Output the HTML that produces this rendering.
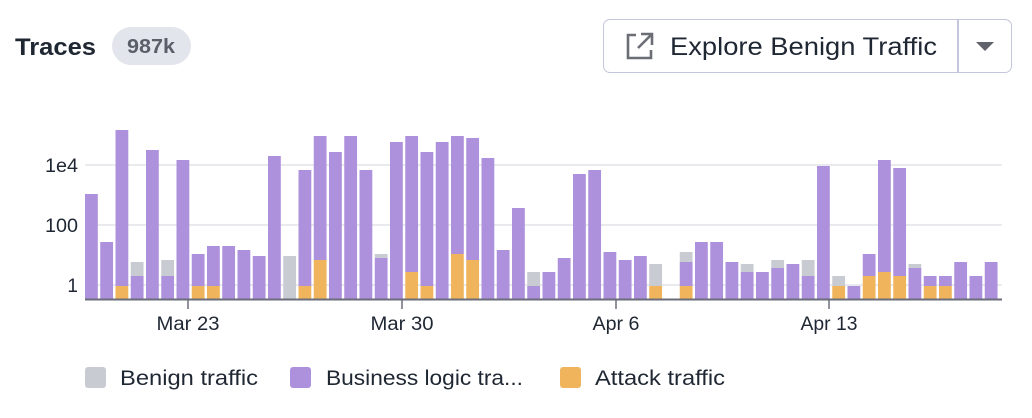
<!DOCTYPE html>
<html><head><meta charset="utf-8"><style>
body{margin:0;width:1032px;height:418px;background:#fff;font-family:"Liberation Sans",sans-serif;overflow:hidden;position:relative}
</style></head><body>
<div style="position:absolute;left:112px;top:27px;width:79px;height:38px;border-radius:19px;background:#e3e5ec"></div>
<div style="position:absolute;left:603px;top:19px;width:407px;height:52px;border:1.5px solid #c3c6dc;border-radius:7px"></div>
<div style="position:absolute;left:957px;top:20px;width:1.5px;height:52px;background:#c3c6dc"></div>
<svg style="position:absolute;left:624px;top:30px" width="32" height="32" viewBox="0 0 32 32"><path d="M12 5H4v23h23v-8" fill="none" stroke="#6b6e75" stroke-width="2.6"/><path d="M17 4h11v11M28 4L14 18" fill="none" stroke="#6b6e75" stroke-width="2.6"/></svg>
<svg style="position:absolute;left:975px;top:40px" width="20" height="12"><path d="M1 2h18l-9 9z" fill="#60636b"/></svg>
<svg style="position:absolute;left:0;top:0" width="1032" height="418">
<text x="15" y="55" font-size="24" font-weight="bold" fill="#1f2733" textLength="81" lengthAdjust="spacingAndGlyphs">Traces</text>
<text x="127" y="53" font-size="20" font-weight="bold" fill="#5a5f6a" textLength="48" lengthAdjust="spacingAndGlyphs">987k</text>
<text x="670" y="55" font-size="25" fill="#1f2733" textLength="267" lengthAdjust="spacingAndGlyphs">Explore Benign Traffic</text>
<g stroke="#e2e3e8" stroke-width="1.5"><line x1="85" y1="165" x2="1002" y2="165"/><line x1="85" y1="225" x2="1002" y2="225"/><line x1="85" y1="285" x2="1002" y2="285"/></g>
<g font-size="19" fill="#1f2733" text-anchor="end"><text x="78" y="172" textLength="33" lengthAdjust="spacingAndGlyphs">1e4</text><text x="78" y="232" textLength="33" lengthAdjust="spacingAndGlyphs">100</text><text x="78" y="292">1</text></g>
<g id="bars"></g>
<line x1="85" y1="299.5" x2="1002" y2="299.5" stroke="#6b6e7a" stroke-width="2"/>
<g stroke="#6b6e7a" stroke-width="1.5"><line x1="188" y1="300" x2="188" y2="309"/><line x1="402" y1="300" x2="402" y2="309"/><line x1="616" y1="300" x2="616" y2="309"/><line x1="829" y1="300" x2="829" y2="309"/></g>
<g font-size="19" fill="#1f2733" text-anchor="middle"><text x="188" y="330" textLength="63" lengthAdjust="spacingAndGlyphs">Mar 23</text><text x="402" y="330" textLength="63" lengthAdjust="spacingAndGlyphs">Mar 30</text><text x="616" y="330" textLength="47" lengthAdjust="spacingAndGlyphs">Apr 6</text><text x="829" y="330" textLength="57" lengthAdjust="spacingAndGlyphs">Apr 13</text></g>
<rect x="85" y="367" width="21" height="21" rx="3" fill="#c8ccd2"/>
<rect x="290" y="367" width="21" height="21" rx="3" fill="#ae91dc"/>
<rect x="560" y="367" width="21" height="21" rx="3" fill="#f0b55c"/>
<g font-size="21" fill="#1f2733"><text x="120" y="385" textLength="138" lengthAdjust="spacingAndGlyphs">Benign traffic</text><text x="326" y="385" textLength="197" lengthAdjust="spacingAndGlyphs">Business logic tra...</text><text x="595" y="385" textLength="130" lengthAdjust="spacingAndGlyphs">Attack traffic</text></g>
</svg>
<script>
var d=[[0,194,0],[0,242,0],[0,130,286],[262,276,0],[0,150,0],[260,276,0],[0,160,0],[0,254,286],[0,246,286],[0,246,0],
[0,250,0],[0,256,0],[0,156,0],[256,0,0],[0,170,286],[0,136,260],[0,152,0],[0,136,0],[0,170,0],[254,258,0],
[0,142,0],[0,136,272],[0,152,286],[0,142,0],[0,136,254],[0,138,260],[0,158,0],[0,250,0],[0,208,0],[272,286,0],
[0,272,0],[0,258,0],[0,174,0],[0,170,0],[0,252,0],[0,260,0],[0,256,0],[264,0,286],[0,0,0],[252,262,286],
[0,242,0],[0,242,0],[0,262,0],[264,272,0],[0,272,0],[260,268,0],[0,264,0],[260,276,0],[0,166,0],[276,0,286],
[0,286,0],[0,254,276],[0,160,272],[0,168,276],[264,268,0],[0,276,286],[0,276,286],[0,262,0],[0,276,0],[0,262,0]];
var s='',B=298.5;
d.forEach(function(v,i){var x=(85+15.25*i).toFixed(2),w=12.8;
var p=v[2]||B;
if(v[0]){var e=v[1]||p;s+='<rect x="'+x+'" y="'+v[0]+'" width="'+w+'" height="'+(e-v[0])+'" fill="#c8ccd2"/>';}
if(v[1]){s+='<rect x="'+x+'" y="'+v[1]+'" width="'+w+'" height="'+(p-v[1])+'" fill="#ae91dc"/>';}
if(v[2]){s+='<rect x="'+x+'" y="'+v[2]+'" width="'+w+'" height="'+(B-v[2])+'" fill="#f0b55c"/>';}
});
document.getElementById('bars').innerHTML=s;
</script>
</body></html>
